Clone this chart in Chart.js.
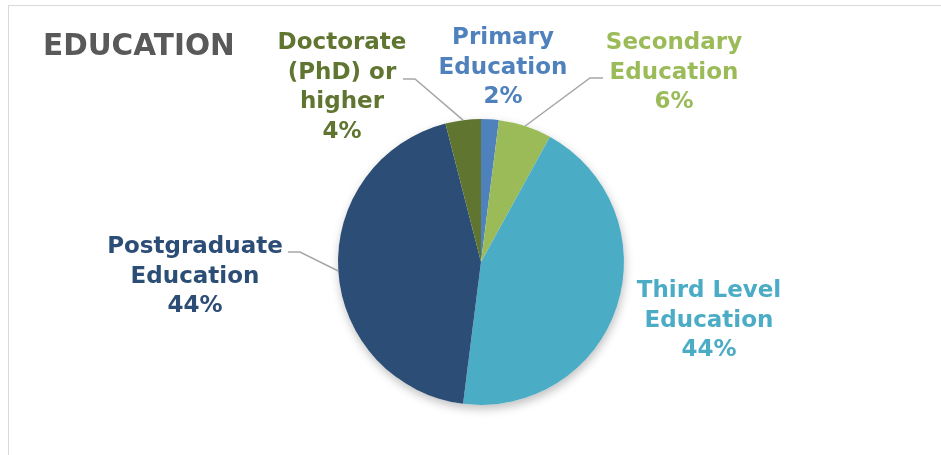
<!DOCTYPE html>
<html lang="en">

<head>
    <meta charset="UTF-8">
    <title>Education</title>
    <style>
        html, body {
            margin: 0;
            padding: 0;
            background: #fff;
        }

        #wrap {
            position: relative;
            width: 941px;
            height: 455px;
            overflow: hidden;
        }

        #frame {
            position: absolute;
            left: 8px;
            top: 5px;
            width: 1000px;
            height: 1000px;
            border-top: 1px solid #d9d9d9;
            border-left: 1px solid #d9d9d9;
        }

        canvas {
            position: absolute;
            left: 0;
            top: 0;
        }
    </style>
</head>

<body>
    <div id="wrap">
        <div id="frame"></div>
        <canvas id="edu-chart" width="941" height="455"></canvas>
    </div>
    <script src="https://cdn.jsdelivr.net/npm/chart.js"></script>
    <script>
    const categories = ['Primary Education', 'Secondary Education', 'Third Level Education', 'Postgraduate Education', 'Doctorate (PhD) or higher'];
    const shares = [2, 6, 44, 44, 4];
    const sliceColors = ['#4f81bd', '#9bbb59', '#4bacc6', '#2c4d75', '#5f7530'];

    // label text lines, centre x, first baseline, and optional leader elbow
    const labelLayout = [
        { lines: ['Primary', 'Education'], x: 503, y: 44 },
        { lines: ['Secondary', 'Education'], x: 674, y: 49, elbow: [[603, 78], [590, 78]] },
        { lines: ['Third Level', 'Education'], x: 709, y: 297 },
        { lines: ['Postgraduate', 'Education'], x: 195, y: 253, elbow: [[288, 252], [300, 252]] },
        { lines: ['Doctorate', '(PhD) or', 'higher'], x: 342, y: 49, elbow: [[403, 79], [415, 79]] }
    ];

    const FONT = '"DejaVu Sans", Verdana, sans-serif';
    const LINE_H = 29.5;

    // soft shadow under the whole pie
    const pieShadow = {
        id: 'pieShadow',
        beforeDatasetsDraw(chart) {
            const arc = chart.getDatasetMeta(0).data[0];
            if (!arc) return;
            const ctx = chart.ctx;
            ctx.save();
            ctx.shadowColor = 'rgba(0,0,0,0.25)';
            ctx.shadowBlur = 10;
            ctx.shadowOffsetX = 1;
            ctx.shadowOffsetY = 4;
            ctx.fillStyle = '#fff';
            ctx.beginPath();
            ctx.arc(arc.x, arc.y, arc.outerRadius, 0, Math.PI * 2);
            ctx.fill();
            ctx.restore();
        }
    };

    const labelsAndTitle = {
        id: 'labelsAndTitle',
        afterDatasetsDraw(chart) {
            const ctx = chart.ctx;
            const meta = chart.getDatasetMeta(0);
            ctx.save();

            ctx.fillStyle = '#595959';
            ctx.font = 'bold 29.5px ' + FONT;
            ctx.textAlign = 'left';
            ctx.textBaseline = 'alphabetic';
            ctx.fillText('EDUCATION', 43, 55);

            meta.data.forEach((arc, i) => {
                const lay = labelLayout[i];
                const total = shares.reduce((a, b) => a + b, 0);
                const pct = Math.round(shares[i] / total * 100) + '%';

                if (lay.elbow) {
                    const mid = (arc.startAngle + arc.endAngle) / 2;
                    const ex = arc.x + Math.cos(mid) * arc.outerRadius;
                    const ey = arc.y + Math.sin(mid) * arc.outerRadius;
                    ctx.strokeStyle = '#a6a6a6';
                    ctx.lineWidth = 1.5;
                    ctx.beginPath();
                    ctx.moveTo(lay.elbow[0][0], lay.elbow[0][1]);
                    ctx.lineTo(lay.elbow[1][0], lay.elbow[1][1]);
                    ctx.lineTo(ex, ey);
                    ctx.stroke();
                }

                ctx.fillStyle = sliceColors[i];
                ctx.font = 'bold 23px ' + FONT;
                ctx.textAlign = 'center';
                const lines = lay.lines.concat([pct]);
                lines.forEach((t, k) => {
                    ctx.fillText(t, lay.x, lay.y + k * LINE_H);
                });
            });
            ctx.restore();
        }
    };

    const ctx = document.getElementById('edu-chart').getContext('2d');
    const eduChart = new Chart(ctx, {
        type: 'pie',
        data: {
            labels: categories,
            datasets: [{
                data: shares,
                backgroundColor: sliceColors,
                borderWidth: 0
            }]
        },
        options: {
            responsive: false,
            animation: false,
            layout: {
                padding: { left: 338, right: 317, top: 119, bottom: 50 }
            },
            plugins: {
                legend: { display: false },
                tooltip: { enabled: false }
            }
        },
        plugins: [pieShadow, labelsAndTitle]
    });
    </script>
</body>

</html>
